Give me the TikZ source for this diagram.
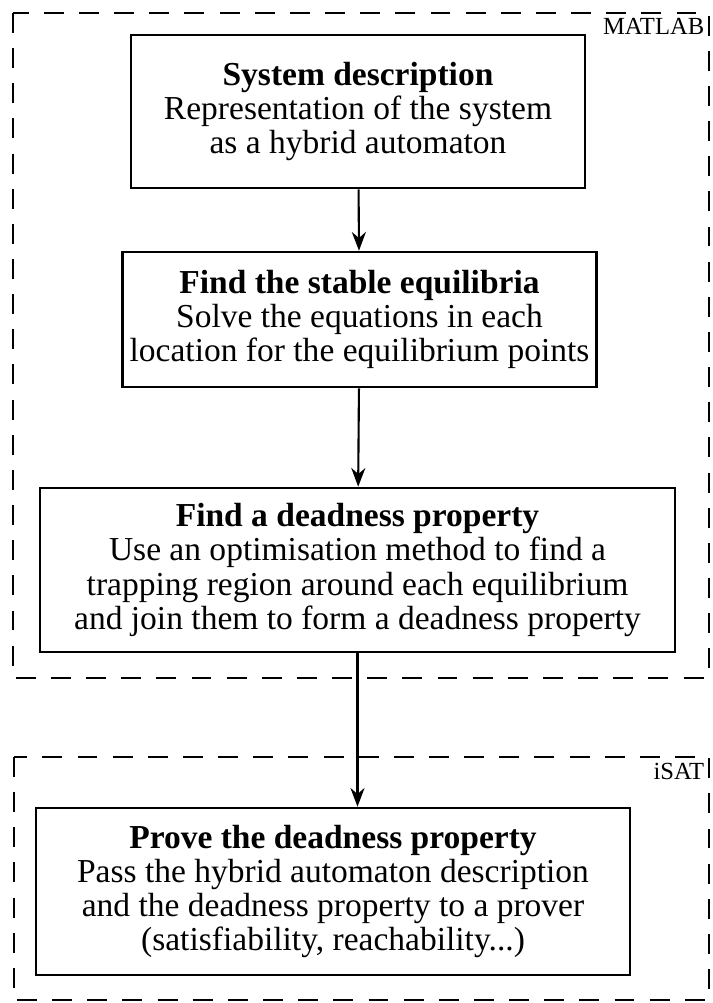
\documentclass[tikz,border=0pt]{standalone}
\usepackage{fontspec}
\setmainfont{Liberation Serif}
\usetikzlibrary{arrows.meta, positioning}

\tikzset{
  stepbox/.style={draw, line width=1.1pt, align=center, inner ysep=0pt, inner xsep=3pt,
    font=\fontsize{14.3}{14.6}\selectfont},
  toolframe/.style={line width=1.1pt, dash pattern=on 8.5pt off 6.5pt},
  toollabel/.style={anchor=north east, inner sep=1pt, font=\fontsize{10.5}{12}\selectfont},
  flow/.style={line width=0.9pt, -{Stealth[length=8pt, width=6pt]}}
}

\begin{document}
\begin{tikzpicture}[x=0.015cm, y=-0.015cm]
  \useasboundingbox (0,0) rectangle (712,1003);
  % tool frames
  \draw[toolframe] (13,13) rectangle (709,678);
  \node[toollabel] (matlab) at (707,15) {MATLAB};
  \draw[toolframe] (14,757) rectangle (709,1000);
  \node[toollabel] (isat) at (707,760) {iSAT};
  % steps
  \node[stepbox, minimum width=6.81cm, minimum height=2.295cm] (sysdesc) at (358,111.5)
    {\textbf{System description}\\Representation of the system\\as a hybrid automaton};
  \node[stepbox, minimum width=7.095cm, minimum height=2.025cm] (equil) at (359.5,319.5)
    {\textbf{Find the stable equilibria}\\Solve the equations in each\\location for the equilibrium points};
  \node[stepbox, minimum width=9.525cm, minimum height=2.46cm] (deadprop) at (357.5,570)
    {\textbf{Find a deadness property}\\Use an optimisation method to find a\\trapping region around each equilibrium\\and join them to form a deadness property};
  \node[stepbox, minimum width=8.91cm, minimum height=2.505cm] (prove) at (333,891.5)
    {\textbf{Prove the deadness property}\\Pass the hybrid automaton description\\and the deadness property to a prover\\(satisfiability, reachability...)};
  % connectors
  \draw[flow] (sysdesc) -- (equil);
  \draw[flow] (equil) -- (deadprop);
  \draw[flow] (deadprop.south) -- (deadprop.south |- prove.north);
\end{tikzpicture}
\end{document}
